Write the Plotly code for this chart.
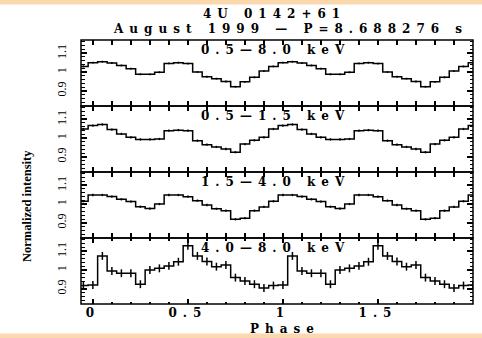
import plotly.graph_objects as go

# Phase-bin centres of the folded light curve (20 bins per cycle)
phase = [0.00, 0.05, 0.10, 0.15, 0.20, 0.25, 0.30, 0.35, 0.40, 0.45,
         0.50, 0.55, 0.60, 0.65, 0.70, 0.75, 0.80, 0.85, 0.90, 0.95]

band_labels = ["0.5—8.0 keV", "0.5—1.5 keV", "1.5—4.0 keV", "4.0—8.0 keV"]

# Normalized intensity per phase bin, one list per energy band
rate_05_80 = [1.050, 1.055, 1.048, 1.035, 1.018, 0.988, 0.988, 0.999, 1.046, 1.050,
              1.045, 1.000, 0.975, 0.965, 0.950, 0.922, 0.948, 0.972, 1.005, 1.030]
rate_05_15 = [1.066, 1.072, 1.045, 1.022, 1.004, 0.993, 0.993, 0.995, 1.039, 1.042,
              1.039, 0.986, 0.965, 0.953, 0.942, 0.925, 0.968, 0.988, 1.004, 1.048]
rate_15_40 = [1.048, 1.048, 1.040, 1.025, 1.013, 0.986, 0.976, 1.000, 1.048, 1.048,
              1.039, 1.018, 0.995, 0.975, 0.965, 0.919, 0.925, 0.965, 0.985, 1.015]
rate_40_80 = [0.921, 1.075, 0.995, 0.983, 0.983, 0.925, 1.000, 1.009, 1.022, 1.044,
              1.129, 1.075, 1.045, 1.018, 1.027, 0.960, 0.942, 0.925, 0.905, 0.918]

# 1-sigma uncertainties
err_05_80 = [0.005, 0.005, 0.005, 0.005, 0.005, 0.005, 0.005, 0.005, 0.005, 0.005,
             0.005, 0.005, 0.005, 0.005, 0.005, 0.005, 0.005, 0.005, 0.005, 0.005]
err_05_15 = [0.006, 0.006, 0.006, 0.006, 0.006, 0.006, 0.006, 0.006, 0.006, 0.006,
             0.006, 0.006, 0.006, 0.006, 0.006, 0.006, 0.006, 0.006, 0.006, 0.006]
err_15_40 = [0.006, 0.006, 0.006, 0.006, 0.006, 0.006, 0.006, 0.006, 0.006, 0.006,
             0.006, 0.006, 0.006, 0.006, 0.006, 0.006, 0.006, 0.006, 0.006, 0.006]
err_40_80 = [0.021, 0.021, 0.021, 0.021, 0.021, 0.021, 0.021, 0.021, 0.021, 0.021,
             0.021, 0.021, 0.021, 0.021, 0.021, 0.021, 0.021, 0.021, 0.021, 0.021]

x_tick_vals = [0, 0.5, 1, 1.5]
y_tick_vals = [0.9, 1, 1.1]

title_line1 = "4U 0142+61"
title_line2 = "August 1999 — P=8.688276 s"
x_title = "Phase"
y_title = "Normalized intensity"

rates = [rate_05_80, rate_05_15, rate_15_40, rate_40_80]
errors = [err_05_80, err_05_15, err_15_40, err_40_80]

W, H = 482, 338
ML, MR, MT, MB = 81, 9, 40, 34
PW, PH = W - ML - MR, H - MT - MB

WIDE = dict(family="DejaVu Serif", size=12, color="black", weight="bold")
SERIF = dict(family="Liberation Serif", size=12, color="black")


def fold_two_cycles(values):
    """Repeat the folded profile so two full cycles are shown."""
    xs, ys = [], []
    for cycle in (-1, 0, 1, 2):
        for p, v in zip(phase, values):
            x = p + cycle
            if -0.11 <= x <= 2.06:
                xs.append(x)
                ys.append(v)
    return xs, ys


fig = go.Figure()
n_panels = len(rates)
layout_axes = {}
bottom_axis = "y" + (str(n_panels) if n_panels > 1 else "")

# One phase axis shared by all four panels; its ticks repeat on every panel edge
layout_axes["xaxis"] = dict(
    domain=[0, 1], anchor=bottom_axis, range=[-0.0625, 2.0],
    tickvals=x_tick_vals,
    ticks="inside", ticklen=5, tickwidth=1.5, tickcolor="black",
    showline=False, mirror="allticks",
    showgrid=False, zeroline=False, showticklabels=True, tickfont=WIDE,
    minor=dict(dtick=0.1, tick0=0, ticks="inside", ticklen=2.5,
               tickwidth=1.5, tickcolor="black", showgrid=False),
)

for i, (vals, errs) in enumerate(zip(rates, errors)):
    suffix = "" if i == 0 else str(i + 1)
    xs, ys = fold_two_cycles(vals)
    _, es = fold_two_cycles(errs)
    fig.add_trace(
        go.Scatter(
            x=xs, y=ys, mode="lines", xaxis="x", yaxis=f"y{suffix}",
            line=dict(shape="hvh", color="black", width=1.5),
            error_y=dict(type="data", array=es, visible=True, width=0,
                         thickness=1.5, color="black"),
            showlegend=False, hoverinfo="skip",
        )
    )
    top = 1 - i / n_panels
    bottom = 1 - (i + 1) / n_panels
    layout_axes[f"yaxis{suffix}"] = dict(
        domain=[bottom, top], anchor="x", range=[0.82, 1.17],
        tickvals=y_tick_vals,
        ticks="inside", ticklen=6, tickwidth=1.5, tickcolor="black",
        showline=False, mirror="ticks",
        showgrid=False, zeroline=False, tickangle=-90, tickfont=SERIF,
        ticklabelstandoff=12,
        minor=dict(dtick=0.02, tick0=0.8, ticks="inside", ticklen=3.5,
                   tickwidth=1.2, tickcolor="black", showgrid=False),
    )
    fig.add_annotation(
        text=band_labels[i], xref="paper", yref=f"y{suffix} domain",
        x=0.5 - 1 / PW, y=1, yanchor="top", xanchor="center", yshift=-1,
        showarrow=False, font=WIDE,
    )
    # Panel frame on the domain edges, shared by neighbouring panels
    fig.add_shape(type="rect", xref="x domain", yref=f"y{suffix} domain",
                  x0=0, x1=1, y0=0, y1=1, layer="above",
                  line=dict(color="black", width=1.5), fillcolor="rgba(0,0,0,0)")

fig.update_layout(**layout_axes)

# Titles and axis captions
fig.add_annotation(text=title_line1, xref="paper", yref="paper",
                   x=(274 - ML) / PW, y=1 + (MT - 14) / PH, yanchor="middle",
                   showarrow=False, font=WIDE)
fig.add_annotation(text=title_line2, xref="paper", yref="paper",
                   x=(290 - ML) / PW, y=1 + (MT - 29.5) / PH, yanchor="middle",
                   showarrow=False, font=WIDE)
fig.add_annotation(text=x_title, xref="paper", yref="paper",
                   x=(285 - ML) / PW, y=-(329 - (H - MB)) / PH, yanchor="middle",
                   showarrow=False, font=WIDE)
fig.add_annotation(text=y_title, xref="paper", yref="paper", textangle=-90,
                   x=(27 - ML) / PW, y=1 - (206 - MT) / PH,
                   xanchor="center", yanchor="middle", showarrow=False,
                   font=dict(family="Liberation Serif", size=12.5, color="black",
                             weight="bold"))

# Peach page bands at the top and bottom edges
band_color = "#FBD8AE"
fig.add_shape(type="rect", xref="paper", yref="paper", layer="below",
              x0=-ML / PW, x1=1 + MR / PW, y0=1 + (MT - 4.5) / PH, y1=1 + MT / PH,
              line_width=0, fillcolor=band_color)
fig.add_shape(type="rect", xref="paper", yref="paper", layer="below",
              x0=-ML / PW, x1=1 + MR / PW, y0=-MB / PH, y1=-(333.5 - (H - MB)) / PH,
              line_width=0, fillcolor=band_color)

fig.update_layout(
    width=W, height=H, autosize=False,
    margin=dict(l=ML, r=MR, t=MT, b=MB, pad=0),
    paper_bgcolor="white", plot_bgcolor="white",
    showlegend=False,
)

# Widen the tracking of the monospaced-style captions
spread_js = """
document.querySelectorAll('svg text').forEach(function (t) {
  if ((t.style.fontFamily || '').indexOf('DejaVu Serif') >= 0) {
    t.style.letterSpacing = '6px';
  }
});
"""

fig.write_html("out.html", post_script=spread_js, config={"displayModeBar": False})
